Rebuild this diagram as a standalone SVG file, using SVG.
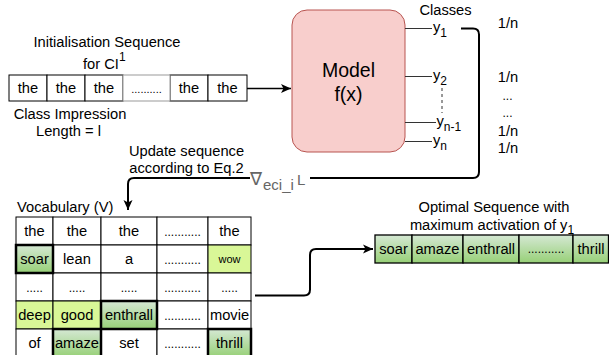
<svg xmlns="http://www.w3.org/2000/svg" width="609" height="355" viewBox="0 0 609 355">
  <style>
    text { font-family: "Liberation Sans", Arial, sans-serif; fill: #000; }
    .t { font-size: 14.7px; text-anchor: middle; }
    .tl { font-size: 14.7px; }
    .dots { font-size: 12px; text-anchor: middle; }
    .sub { font-size: 12px; }
    .cell { fill: #fff; stroke: #000; stroke-width: 1; }
    .cellg { fill: #fff; stroke: #999; stroke-width: 1; }
    .hl { fill: url(#greenGrad); stroke: #000; stroke-width: 2.5; }
    .opt { fill: url(#greenGrad); stroke: #000; stroke-width: 1.3; }
    .yel { fill: #d9f797; stroke: #000; stroke-width: 1; }
    .out { fill: none; stroke: #333; stroke-width: 1; }
    .wire { fill: none; stroke: #000; stroke-width: 2; }
    .grad-label { fill: #666; }
  </style>
  <defs>
    <linearGradient id="greenGrad" x1="0" y1="0" x2="0" y2="1">
      <stop offset="0" stop-color="#d5e8d4"/>
      <stop offset="1" stop-color="#97d077"/>
    </linearGradient>
    <marker id="arrow" markerUnits="userSpaceOnUse" markerWidth="12" markerHeight="10" refX="10" refY="5" orient="auto">
      <path d="M0,0.5 L10,5 L0,9.5 L2.5,5 z" fill="#000"/>
    </marker>
  </defs>

  <!-- initial sequence -->
  <g id="init-sequence">
    <text class="t" x="107" y="47">Initialisation Sequence</text>
    <text class="tl" x="83" y="69">for CI<tspan class="sub" dy="-8">1</tspan></text>
    <rect class="cell" x="9" y="75" width="38" height="26"/>
    <rect class="cell" x="47" y="75" width="38" height="26"/>
    <rect class="cell" x="85" y="75" width="38" height="26"/>
    <rect class="cell" x="170" y="75" width="38" height="26"/>
    <rect class="cell" x="208" y="75" width="39" height="26"/>
    <rect class="cellg" x="123" y="75" width="47" height="26"/>
    <text class="t" x="28" y="93">the</text>
    <text class="t" x="66" y="93">the</text>
    <text class="t" x="104" y="93">the</text>
    <text class="dots" x="146.5" y="93" style="font-size:11px">..........</text>
    <text class="t" x="189" y="93">the</text>
    <text class="t" x="227.5" y="93">the</text>
    <text class="t" x="70" y="119">Class Impression</text>
    <text class="t" x="68.5" y="136">Length = l</text>
  </g>

  <!-- model -->
  <g id="model">
    <rect x="292" y="10" width="113" height="142" rx="15" ry="15" fill="#f8cecc" stroke="#b85450" stroke-width="1"/>
    <text x="348.5" y="77" style="font-size:19.5px;text-anchor:middle">Model</text>
    <text x="348.5" y="101" style="font-size:19.5px;text-anchor:middle">f(x)</text>
  </g>

  <!-- class outputs -->
  <g id="classes">
    <text class="t" x="445.5" y="15">Classes</text>
    <path class="out" d="M405,28.5 H432 M405,76.5 H432 M405,122.5 H436 M405,141.5 H432"/>
    <path d="M442,88 V113" stroke="#333" stroke-width="1" stroke-dasharray="3,3" fill="none"/>
    <text class="tl" x="433" y="32">y<tspan class="sub" dy="5">1</tspan></text>
    <text class="tl" x="433" y="80">y<tspan class="sub" dy="5">2</tspan></text>
    <text class="tl" x="436.5" y="126">y<tspan class="sub" dy="5">n-1</tspan></text>
    <text class="tl" x="433" y="145">y<tspan class="sub" dy="5">n</tspan></text>
  </g>

  <!-- uniform scores -->
  <g id="scores">
    <text class="t" x="508" y="28">1/n</text>
    <text class="t" x="508" y="82">1/n</text>
    <text class="dots" x="507.5" y="100">...</text>
    <text class="dots" x="507.5" y="117">...</text>
    <text class="t" x="508" y="136">1/n</text>
    <text class="t" x="508" y="153">1/n</text>
  </g>

  <!-- vocabulary table -->
  <g id="vocabulary">
    <text class="tl" x="17" y="212">Vocabulary (V)</text>
    <g>
      <rect class="cell" x="16" y="217" width="37" height="28"/>
      <rect class="cell" x="53" y="217" width="48" height="28"/>
      <rect class="cell" x="101" y="217" width="56" height="28"/>
      <rect class="cell" x="157" y="217" width="51" height="28"/>
      <rect class="cell" x="208" y="217" width="43" height="28"/>

      <rect class="cell" x="53" y="245" width="48" height="28"/>
      <rect class="cell" x="101" y="245" width="56" height="28"/>
      <rect class="cell" x="157" y="245" width="51" height="28"/>
      <rect class="yel" x="208" y="245" width="43" height="28"/>

      <rect class="cell" x="16" y="273" width="37" height="28"/>
      <rect class="cell" x="53" y="273" width="48" height="28"/>
      <rect class="cell" x="101" y="273" width="56" height="28"/>
      <rect class="cell" x="157" y="273" width="51" height="28"/>
      <rect class="cell" x="208" y="273" width="43" height="28"/>

      <rect class="yel" x="16" y="301" width="37" height="28"/>
      <rect class="yel" x="53" y="301" width="48" height="28"/>
      <rect class="cell" x="157" y="301" width="51" height="28"/>
      <rect class="cell" x="208" y="301" width="43" height="28"/>

      <rect class="cell" x="16" y="329" width="37" height="28"/>
      <rect class="cell" x="101" y="329" width="56" height="28"/>
      <rect class="cell" x="157" y="329" width="51" height="28"/>

      <rect class="hl" x="16" y="245" width="37" height="28"/>
      <rect class="hl" x="101" y="301" width="56" height="28"/>
      <rect class="hl" x="53" y="329" width="48" height="28"/>
      <rect class="hl" x="208" y="329" width="43" height="28"/>
    </g>
    <text class="t" x="34.5" y="236">the</text>
    <text class="t" x="77" y="236">the</text>
    <text class="t" x="129" y="236">the</text>
    <text class="dots" x="182.5" y="236">...........</text>
    <text class="t" x="229.5" y="236">the</text>

    <text class="t" x="34.5" y="264">soar</text>
    <text class="t" x="77" y="264">lean</text>
    <text class="t" x="129" y="264">a</text>
    <text class="dots" x="182.5" y="264">...........</text>
    <text x="229.5" y="263" style="font-size:11px;text-anchor:middle">wow</text>

    <text class="dots" x="34.5" y="292">.....</text>
    <text class="dots" x="77" y="292">.....</text>
    <text class="dots" x="129" y="292">.....</text>
    <text class="dots" x="182.5" y="292">...........</text>
    <text class="dots" x="229.5" y="292">.....</text>

    <text class="t" x="34.5" y="320">deep</text>
    <text class="t" x="77" y="320">good</text>
    <text class="t" x="129" y="320">enthrall</text>
    <text class="dots" x="182.5" y="320">...........</text>
    <text class="t" x="229.5" y="320">movie</text>

    <text class="t" x="34.5" y="348">of</text>
    <text class="t" x="77" y="348">amaze</text>
    <text class="t" x="129" y="348">set</text>
    <text class="dots" x="182.5" y="348">...........</text>
    <text class="t" x="229.5" y="348">thrill</text>
  </g>

  <!-- optimal sequence -->
  <g id="optimal-sequence">
    <text class="t" x="494" y="212">Optimal Sequence with</text>
    <text class="t" x="492" y="230">maximum activation of y<tspan class="sub" dy="4">1</tspan></text>
    <rect class="opt" x="375" y="235" width="37" height="28"/>
    <rect class="opt" x="412" y="235" width="51" height="28"/>
    <rect class="opt" x="463" y="235" width="56" height="28"/>
    <rect class="opt" x="519" y="235" width="54" height="28"/>
    <rect class="opt" x="573" y="235" width="35.5" height="28"/>
    <text class="t" x="393.5" y="254">soar</text>
    <text class="t" x="437.5" y="254">amaze</text>
    <text class="t" x="491" y="254">enthrall</text>
    <text class="dots" x="546" y="253">...........</text>
    <text class="t" x="591" y="254">thrill</text>
  </g>

  <!-- connectors -->
  <g id="connectors">
    <path class="wire" style="stroke-width:1.6" d="M247,88.5 H291" marker-end="url(#arrow)"/>
    <path class="wire" d="M461,28.5 H473 Q479,28.5 479,34.5 V172 Q479,178 473,178 H134 Q128,178 128,184 V210" marker-end="url(#arrow)"/>
    <path class="wire" d="M255,295.5 H304 Q310,295.5 310,289.5 V255 Q310,249 316,249 H373" marker-end="url(#arrow)"/>
    <text class="t" x="186.5" y="156">Update sequence</text>
    <text class="t" x="186.5" y="173">according to Eq.2</text>
    <rect x="250" y="168" width="60" height="22" fill="#fff"/>
    <text class="grad-label" x="250" y="185" style="font-size:18px">∇</text>
    <text class="grad-label" x="263" y="190" style="font-size:15px">eci_i</text>
    <text class="grad-label" x="297" y="185" style="font-size:15px">L</text>
  </g>
</svg>
